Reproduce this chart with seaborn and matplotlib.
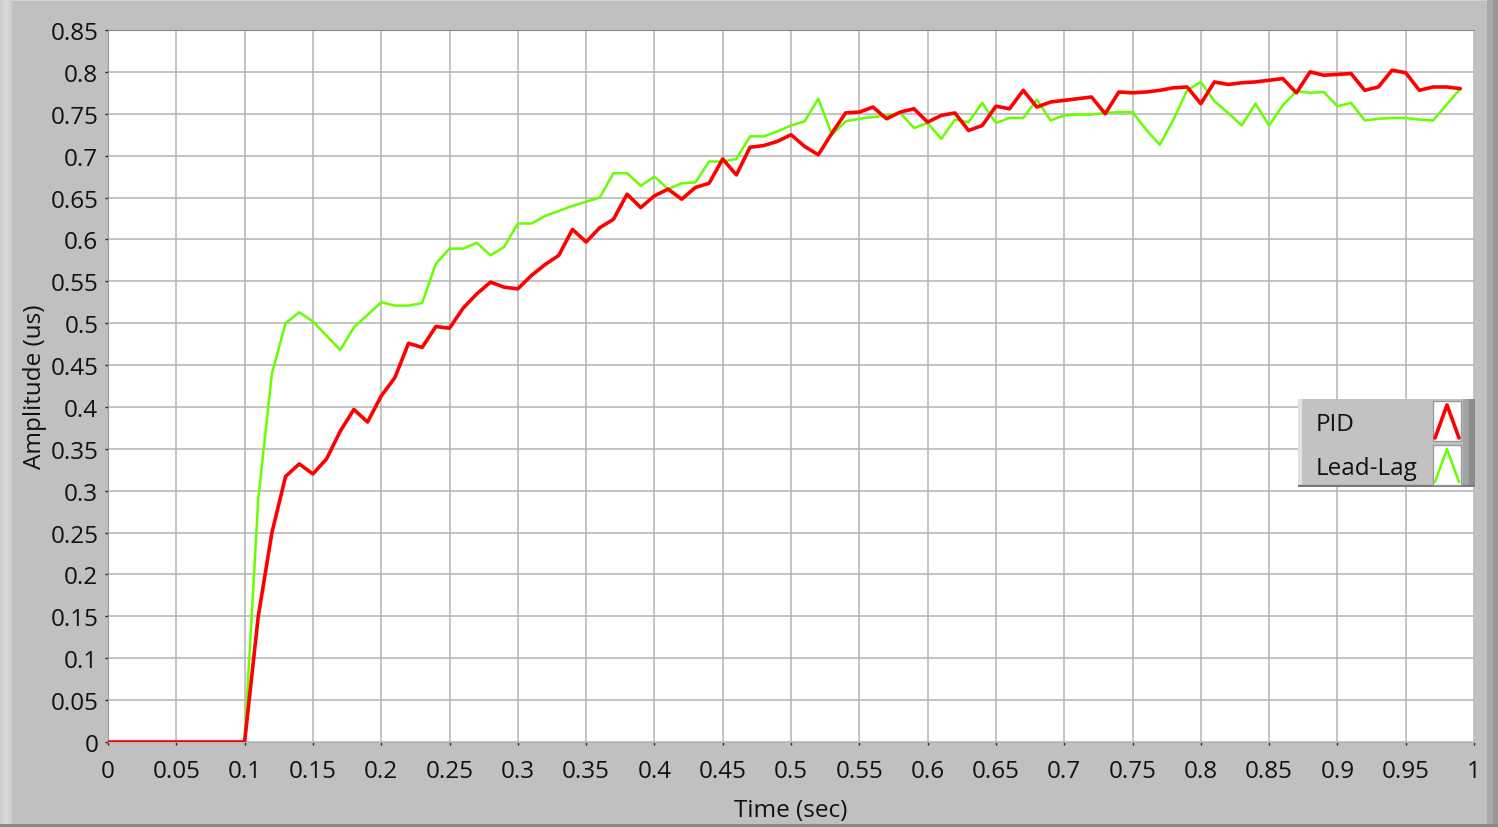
import numpy as np
import pandas as pd
import matplotlib
matplotlib.use("Agg")
import matplotlib.pyplot as plt
import seaborn as sns
from matplotlib.patches import Rectangle

# time base, 0.01 s sampling
time_s = [round(i * 0.01, 2) for i in range(100)]

pid = [0.0] * 11 + [
    0.150, 0.250, 0.317, 0.332, 0.320, 0.338, 0.371, 0.397, 0.382,  # 0.11-0.19
    0.413, 0.435, 0.476, 0.471, 0.496, 0.494, 0.518, 0.535, 0.549, 0.543,  # 0.20-0.29
    0.541, 0.557, 0.570, 0.581, 0.612, 0.597, 0.614, 0.624, 0.654, 0.638,  # 0.30-0.39
    0.652, 0.660, 0.648, 0.662, 0.667, 0.696, 0.677, 0.710, 0.712, 0.717,  # 0.40-0.49
    0.725, 0.711, 0.701, 0.727, 0.751, 0.752, 0.758, 0.744, 0.752, 0.756,  # 0.50-0.59
    0.740, 0.748, 0.751, 0.730, 0.736, 0.759, 0.756, 0.778, 0.758, 0.764,  # 0.60-0.69
    0.766, 0.768, 0.770, 0.750, 0.776, 0.775, 0.776, 0.778, 0.781, 0.782,  # 0.70-0.79
    0.762, 0.788, 0.785, 0.787, 0.788, 0.790, 0.792, 0.775, 0.800, 0.796,  # 0.80-0.89
    0.797, 0.798, 0.778, 0.782, 0.802, 0.799, 0.778, 0.782, 0.782, 0.780,  # 0.90-0.99
]

lead_lag = [0.0] * 11 + [
    0.290, 0.440, 0.500, 0.513, 0.502, 0.485, 0.468, 0.495, 0.510,  # 0.11-0.19
    0.525, 0.521, 0.521, 0.524, 0.571, 0.589, 0.589, 0.596, 0.581, 0.591,  # 0.20-0.29
    0.619, 0.619, 0.628, 0.634, 0.640, 0.645, 0.650, 0.679, 0.679, 0.664,  # 0.30-0.39
    0.675, 0.660, 0.667, 0.668, 0.693, 0.693, 0.696, 0.723, 0.723, 0.729,  # 0.40-0.49
    0.736, 0.741, 0.768, 0.725, 0.741, 0.744, 0.746, 0.748, 0.751, 0.733,  # 0.50-0.59
    0.739, 0.720, 0.743, 0.740, 0.763, 0.739, 0.745, 0.745, 0.767, 0.742,  # 0.60-0.69
    0.748, 0.749, 0.749, 0.751, 0.752, 0.752, 0.731, 0.713, 0.743, 0.778,  # 0.70-0.79
    0.788, 0.765, 0.751, 0.736, 0.762, 0.736, 0.760, 0.777, 0.775, 0.776,  # 0.80-0.89
    0.759, 0.763, 0.742, 0.744, 0.745, 0.745, 0.743, 0.742, 0.761, 0.780,  # 0.90-0.99
]

series_names = ["PID", "Lead-Lag"]
series_colors = ["#ff0000", "#66ff00"]

x_ticks = [round(i * 0.05, 2) for i in range(21)]
y_ticks = [round(i * 0.05, 2) for i in range(18)]

df = pd.DataFrame({
    "time": time_s * 2,
    "amp": pid + lead_lag,
    "series": ["PID"] * len(pid) + ["Lead-Lag"] * len(lead_lag),
})

sns.set_style("ticks")
plt.rcParams["font.family"] = ["Open Sans", "DejaVu Sans"]
FS = 17.5

BG = "#c0c0c0"
fig = plt.figure(figsize=(14.98, 8.28), dpi=100, facecolor=BG)
W, H = 1498, 828


def fig_rect(x, y, w, h, color):
    # rectangle given in pixel coords from top-left
    fig.patches.append(Rectangle((x / W, 1 - (y + h) / H), w / W, h / H,
                                 transform=fig.transFigure, color=color,
                                 zorder=-1, lw=0))


# LabVIEW-like bevel around the panel
fig_rect(0, 0, W, 2, "#d2d2d2")
fig_rect(0, 0, 12, H, "#cfcfcf")
fig_rect(3, 0, 6, H, "#d8d8d8")
fig_rect(1487, 0, 11, H, "#a8a8a8")
fig_rect(1493, 0, 5, H, "#969696")
fig_rect(0, 825, W, 3, "#8a8a8a")

ax = fig.add_axes([108 / W, 1 - 743 / H, (1474 - 108) / W, (743 - 31) / H])
ax.set_facecolor("white")

sns.lineplot(data=df[df.series == "Lead-Lag"], x="time", y="amp",
             color=series_colors[1], lw=1.8, ax=ax, legend=False, zorder=3)
sns.lineplot(data=df[df.series == "PID"], x="time", y="amp",
             color=series_colors[0], lw=2.6, ax=ax, legend=False, zorder=4)

ax.set_xlim(0, 1)
ax.set_ylim(0, 0.85)
ax.set_xticks(x_ticks)
ax.set_yticks(y_ticks)
ax.set_xticklabels([f"{v:g}" for v in x_ticks])
ax.set_yticklabels([f"{v:g}" for v in y_ticks])
ax.grid(True, color="#b4b4b4", lw=1.1)
ax.set_axisbelow(True)
ax.tick_params(length=2.5, width=1, color="#222222", labelsize=FS,
               labelcolor="#111111")
ax.tick_params(axis="x", pad=10)
ax.tick_params(axis="y", pad=4.5)
ax.spines["right"].set_visible(False)
ax.spines["top"].set_color("#888888")
ax.spines["left"].set_color("#9a9a9a")
ax.spines["bottom"].set_color("#b4b4b4")
ax.set_xlabel("Time (sec)", fontsize=FS, labelpad=10.5, color="#111111")
ax.set_ylabel("Amplitude (us)", fontsize=FS, labelpad=2, color="#111111")

# legend panel
lx0, ly0, lw_, lh_ = 1298, 400, 177, 88
lax = fig.add_axes([lx0 / W, 1 - (ly0 + lh_) / H, lw_ / W, lh_ / H])
lax.set_xlim(0, lw_)
lax.set_ylim(lh_, 0)
lax.set_facecolor("#c2c2c2")
lax.set_xticks([])
lax.set_yticks([])
for s in lax.spines.values():
    s.set_visible(False)
lax.add_patch(Rectangle((0, 0), 3, lh_, color="#e2e2e2"))
lax.add_patch(Rectangle((lw_ - 12, 0), 6, lh_, color="#a4a4a4"))
lax.add_patch(Rectangle((lw_ - 6, 0), 6, lh_, color="#8c8c8c"))
lax.add_patch(Rectangle((0, lh_ - 2), lw_, 2, color="#7a7a7a"))
for i, (name, col) in enumerate(zip(series_names, series_colors)):
    yc = 22 + i * 44
    lax.text(18, yc + 3, name, va="center", ha="left", fontsize=FS,
             color="#111111")
    lax.add_patch(Rectangle((135, yc - 20), 28, 40, facecolor="white",
                            edgecolor="#9a9a9a", lw=1))
    lax.plot([137, 149, 161], [yc + 17, yc - 16, yc + 17], color=col,
             lw=2.6 if i == 0 else 1.8)

fig.savefig("out.png", dpi=100, facecolor=BG)
